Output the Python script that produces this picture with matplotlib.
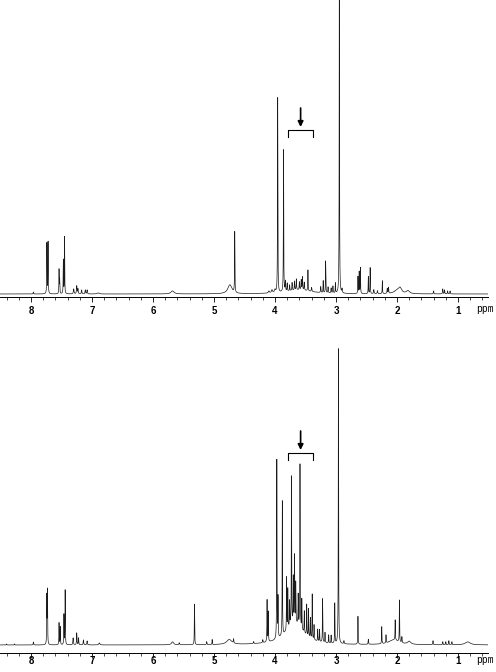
import numpy as np
import matplotlib
matplotlib.use('Agg')
import matplotlib.pyplot as plt
from matplotlib.ticker import MultipleLocator, FixedLocator

# peak lists: (shift in ppm, height, half width in ppm)
top_shift = [7.96, 7.74, 7.72, 7.54, 7.53, 7.47, 7.45, 7.30, 7.25, 7.23, 7.17, 7.11, 7.08,
             6.90, 5.68, 4.74, 4.66, 4.10, 4.05, 4.00, 3.956, 3.86,
             3.83, 3.80, 3.76, 3.72, 3.68, 3.65, 3.60, 3.57, 3.55, 3.52, 3.46, 3.40,
             3.25, 3.21, 3.17, 3.13, 3.08, 3.05, 3.01, 2.945, 2.90,
             2.64, 2.62, 2.60, 2.47, 2.44, 2.38, 2.32, 2.24, 2.16, 2.14,
             2.00, 1.95, 1.82, 1.40, 1.25, 1.22, 1.17, 1.13, 3.60]
top_height = [2, 51, 52, 24, 14, 34, 57, 5, 8, 5, 4, 4, 4,
              1, 3, 9, 61, 2, 3, 3, 197, 142,
              10, 8, 6, 8, 9, 11, 8, 10, 13, 8, 21, 4,
              6, 12, 32, 6, 5, 7, 10, 340, 4,
              17, 22, 26, 17, 26, 4, 3, 13, 5, 6,
              3, 5, 3, 3, 5, 4, 3, 3, 4]
top_width = [.004, .003, .003, .003, .003, .003, .003, .006, .005, .005, .005, .005, .005,
             .02, .03, .04, .003, .01, .01, .01, .003, .003,
             .004, .004, .004, .004, .004, .004, .004, .004, .004, .004, .003, .005,
             .004, .003, .003, .004, .004, .004, .003, .003, .005,
             .003, .003, .003, .003, .003, .005, .005, .003, .004, .004,
             .06, .03, .03, .004, .004, .004, .004, .004, .25]

bot_shift = [8.40, 8.27, 7.96, 7.74, 7.73, 7.54, 7.52, 7.46, 7.44, 7.31, 7.25, 7.22, 7.14,
             7.08, 6.88, 5.68, 5.57, 5.32, 5.12, 5.03, 4.75, 4.68, 4.35, 4.20,
             4.13, 4.11, 3.97, 3.95, 3.88, 3.81, 3.79, 3.76, 3.73, 3.70, 3.68, 3.66,
             3.62, 3.59, 3.56, 3.52, 3.48, 3.45, 3.42, 3.39, 3.36, 3.30, 3.27, 3.22,
             3.18, 3.12, 3.08, 3.02, 2.96, 2.87, 2.64, 2.47, 2.25, 2.18, 2.03, 1.96,
             1.92, 2.05, 1.80, 1.41, 1.25, 1.20, 1.15, 1.10, 0.84, 3.68]
bot_height = [1, 1, 3, 48, 53, 22, 18, 30, 55, 7, 12, 7, 5,
              4, 2, 3, 2, 41, 3, 5, 5, 4, 2, 3,
              42, 30, 179, 40, 135, 53, 40, 25, 148, 45, 67, 40,
              30, 163, 30, 22, 31, 28, 20, 45, 15, 12, 12, 44,
              10, 8, 8, 40, 295, 3, 28, 5, 17, 8, 20, 42,
              6, 5, 3, 4, 3, 3, 4, 3, 3, 22]
bot_width = [.004, .004, .004, .003, .003, .003, .003, .003, .003, .005, .004, .004, .005,
             .005, .01, .02, .005, .003, .004, .003, .05, .004, .005, .005,
             .003, .003, .003, .003, .003, .003, .003, .003, .003, .003, .003, .003,
             .003, .003, .003, .003, .003, .003, .003, .003, .003, .003, .003, .003,
             .003, .003, .003, .003, .003, .005, .003, .004, .003, .003, .003, .003,
             .004, .1, .03, .004, .004, .004, .004, .004, .05, .17]

tick_labels = ['8', '7', '6', '5', '4', '3', '2', '1']
tick_pos = [8, 7, 6, 5, 4, 3, 2, 1]

ppm = np.linspace(8.6, 0.4, 12000)


def spectrum(shifts, heights, widths):
    y = np.zeros_like(ppm)
    for s, h, w in zip(shifts, heights, widths):
        y += h * w ** 2 / ((ppm - s) ** 2 + w ** 2)
    return y


def draw_panel(ax, y, ylim, bracket_y, pad, ppm_off):
    ax.plot(ppm, y, color='#1a1a1a', lw=0.5)
    ax.set_xlim(8.508, 0.508)
    ax.set_ylim(*ylim)
    for side in ['top', 'left', 'right']:
        ax.spines[side].set_visible(False)
    ax.spines['bottom'].set_linewidth(0.7)
    ax.set_yticks([])
    ax.xaxis.set_major_locator(FixedLocator(tick_pos))
    ax.set_xticklabels(tick_labels, fontsize=7, fontweight='bold', family='Liberation Sans')
    ax.xaxis.set_minor_locator(MultipleLocator(0.2))
    ax.tick_params(axis='x', which='major', length=3.5, width=0.6, pad=pad)
    ax.tick_params(axis='x', which='minor', length=2.2, width=0.5)
    ax.annotate('ppm', xy=(0.70, 0), xycoords=('data', 'axes fraction'),
                xytext=(0, ppm_off), textcoords='offset pixels',
                ha='left', va='baseline', fontsize=7, family='Liberation Mono',
                annotation_clip=False)
    # bracket and arrow over the marked region
    ax.plot([3.79, 3.79, 3.37, 3.37], [bracket_y - 7, bracket_y, bracket_y, bracket_y - 7],
            color='black', lw=0.8)
    ax.annotate('', xy=(3.58, bracket_y + 3), xytext=(3.58, bracket_y + 22),
                arrowprops=dict(arrowstyle='-|>', color='black', lw=1.2,
                                mutation_scale=8, shrinkA=0, shrinkB=0))


fig = plt.figure(figsize=(4.96, 6.72), dpi=100)
w = 488 / 496
ax1 = fig.add_axes([0, 1 - 297.5 / 672, w, 297.5 / 672])
ax2 = fig.add_axes([0, 1 - 652.5 / 672, w, 312.5 / 672])

draw_panel(ax1, spectrum(top_shift, top_height, top_width), (-3.5, 294), 164, 2.5, -15)
draw_panel(ax2, spectrum(bot_shift, bot_height, bot_width), (-7.5, 305), 192, -0.8, -10.5)

fig.savefig('out.png', dpi=100)
